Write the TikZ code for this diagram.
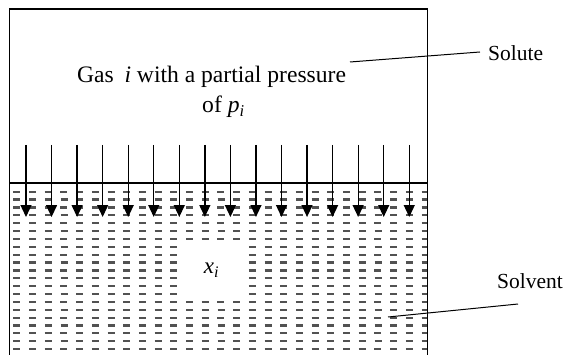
\documentclass[tikz,border=0pt]{standalone}
\usepackage{fontspec}
\setmainfont{Liberation Serif}
\usetikzlibrary{arrows.meta}
\begin{document}
\begin{tikzpicture}[x=1pt,y=-1pt,
  wall/.style={line width=1.2pt},
  surface/.style={line width=1.6pt},
  fall/.style={line width=1.3pt,-{Triangle[width=11pt,length=12pt]}},
  liquid/.style={line width=2.2pt,color=black!68,dash pattern=on 7pt off 8.7pt},
  leader/.style={line width=1pt},
  lbl/.style={font=\fontsize{21.5}{24}\selectfont,inner sep=0pt,anchor=base west},
  big/.style={font=\fontsize{23.6}{26}\selectfont,inner sep=0pt,anchor=base west},
  hole/.style={fill=white,inner sep=0pt,minimum width=63pt,minimum height=51pt}]
\useasboundingbox (0,0) rectangle (569,355);
% liquid hatching
\begin{scope}
  \clip (9.5,183) rectangle (427.5,360);
  \foreach \k in {0,...,21}{
    \pgfmathsetmacro{\yy}{191.7+7.87*\k}
    \pgfmathsetmacro{\xs}{isodd(\k) ? -2.3 : 13.3}
    \draw[liquid] (\xs,\yy) -- (440,\yy);
  }
\end{scope}
% container
\coordinate (bl) at (9.5,356);
\coordinate (tl) at (9.5,9);
\coordinate (tr) at (427.5,9);
\coordinate (br) at (427.5,356);
\draw[wall] (bl) -- (tl) -- (tr) -- (br);
\coordinate (sl) at (9.5,183);
\coordinate (sr) at (427.5,183);
\draw[surface] (sl) -- (sr);
% arrows
\foreach \i in {0,...,15}{
  \pgfmathsetmacro{\xx}{26+25.55*\i}
  \coordinate (a\i) at (\xx,145);
  \coordinate (b\i) at (\xx,217);
  \draw[fall] (a\i) -- (b\i);
}
% texts
\node[big] (gas) at (77,83) {Gas\hspace{0.45em}\textit{i} with a partial pressure};
\node[big] (of) at (202,113) {of \textit{p}\textsubscript{\textit{i}}};
\node[hole] (xi) at (211.5,270.5) {\fontsize{23}{26}\selectfont\textit{x}\textsubscript{\textit{i}}};
\node[lbl] (solute) at (488,61) {Solute};
\node[lbl] (solvent) at (497,288) {Solvent};
\coordinate (soluteA) at (350,62);
\coordinate (soluteB) at (480,52);
\draw[leader] (soluteA) -- (soluteB);
\coordinate (solventA) at (388,317);
\coordinate (solventB) at (518,304);
\draw[leader] (solventA) -- (solventB);
\end{tikzpicture}
\end{document}
